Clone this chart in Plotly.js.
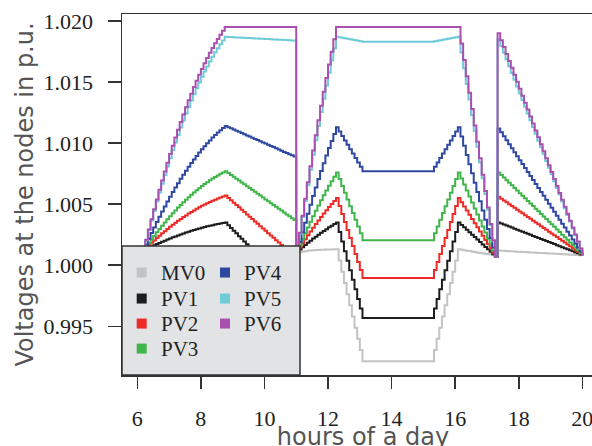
<!DOCTYPE html>
<html><head><meta charset="utf-8">
<script src="https://cdn.plot.ly/plotly-3.0.1.min.js"></script>
<style>html,body{margin:0;padding:0;overflow:hidden;background:#fff}</style>
</head><body><div id="chart"></div>
<script>
// time grid: first sample 6:10, one sample every 5 minutes, last sample 20:00
const startHour = 6 + 10 / 60;
const stepHours = 5 / 60;

const seriesNames = ['MV0', 'PV1', 'PV2', 'PV3', 'PV4', 'PV5', 'PV6'];
const seriesColors = ['#c3c3c3', '#1d1d1d', '#ed2a25', '#40b54a', '#2e47a0', '#6fcbd7', '#a950ae'];

const xTicks = [6, 8, 10, 12, 14, 16, 18, 20];
const yTicks = [0.995, 1.000, 1.005, 1.010, 1.015, 1.020];

const mv0 = [
  1.0012,1.0012,1.0012,1.0012,1.0012,1.0012,1.0012,1.0012,1.0012,1.0012,1.0012,1.0012,1.0012,1.0012,1.0012,1.0012,
  1.0013,1.0013,1.0013,1.0013,1.0013,1.0013,1.0013,1.0013,1.0013,1.0013,1.0013,1.0013,1.0013,1.0013,1.0013,1.0013,
  1.00105,1.00079,1.00054,1.00028,1.00003,0.99978,0.99952,0.99927,0.99901,0.99876,0.99851,0.99825,0.99800,0.99774,0.99749,0.99724,0.99698,0.99673,0.99647,0.99622,0.99597,0.99571,0.99546,0.99520,0.99495,0.99470,
  1.00100,1.00106,1.00111,1.00115,1.00118,1.00120,1.00122,1.00124,1.00125,1.00126,1.00127,1.00128,1.00129,1.00129,1.00130,1.00130,
  1.00038,0.99947,0.99855,0.99763,0.99672,0.99580,0.99488,0.99397,0.99305,0.99213,
  0.99213,0.99213,0.99213,0.99213,0.99213,0.99213,0.99213,0.99213,0.99213,0.99213,0.99213,0.99213,0.99213,0.99213,0.99213,0.99213,0.99213,0.99213,0.99213,0.99213,0.99213,0.99213,0.99213,0.99213,0.99213,0.99213,
  0.99305,0.99397,0.99488,0.99580,0.99672,0.99763,0.99855,0.99947,1.00038,1.00130,
  1.00126,1.00123,1.00119,1.00116,1.00112,1.00109,1.00105,1.00101,1.00098,1.00094,1.00091,1.00087,1.00084,1.00080,
  1.00120,1.00119,1.00118,1.00116,1.00115,1.00114,1.00113,1.00111,1.00110,1.00109,1.00108,1.00106,1.00105,1.00104,1.00103,1.00101,1.00100,1.00099,1.00098,1.00096,1.00095,1.00094,1.00093,1.00091,1.00090,1.00089,1.00088,1.00086,1.00085,1.00084,1.00083,1.00081,1.00080
];

const pv1 = [
  1.0012,1.00131,1.00142,1.00152,1.00163,1.00173,1.00182,1.00192,1.00201,1.00210,1.00219,1.00228,1.00236,1.00244,1.00252,1.00260,1.00267,1.00275,1.00282,1.00288,1.00295,1.00301,1.00307,1.00313,1.00318,1.00323,1.00328,1.00333,1.00338,1.00342,1.00346,1.00350,
  1.00328,1.00305,1.00283,1.00261,1.00238,1.00216,1.00194,1.00172,1.00149,1.00127,1.00105,1.00082,1.00060,1.00038,1.00015,0.99993,0.99971,0.99949,0.99926,0.99904,0.99882,0.99859,0.99837,0.99815,0.99792,0.99770,
  1.0011,1.00129,1.00148,1.00166,1.00183,1.00201,1.00218,1.00234,1.00250,1.00266,1.00281,1.00295,1.00310,1.00324,1.00337,1.00350,
  1.00272,1.00194,1.00115,1.00037,0.99959,0.99881,0.99803,0.99724,0.99646,0.99568,
  0.99568,0.99568,0.99568,0.99568,0.99568,0.99568,0.99568,0.99568,0.99568,0.99568,0.99568,0.99568,0.99568,0.99568,0.99568,0.99568,0.99568,0.99568,0.99568,0.99568,0.99568,0.99568,0.99568,0.99568,0.99568,0.99568,
  0.99646,0.99724,0.99803,0.99881,0.99959,1.00037,1.00115,1.00194,1.00272,1.00350,
  1.00330,1.00310,1.00290,1.00270,1.00250,1.00230,1.00210,1.00190,1.00170,1.00150,1.00130,1.00110,1.00090,1.00070,
  1.00350,1.00342,1.00333,1.00325,1.00316,1.00308,1.00299,1.00291,1.00283,1.00274,1.00266,1.00257,1.00249,1.00240,1.00232,1.00223,1.00215,1.00207,1.00198,1.00190,1.00181,1.00173,1.00164,1.00156,1.00148,1.00139,1.00131,1.00122,1.00114,1.00105,1.00097,1.00088,1.00080
];

const pv2 = [
  1.0012,1.00142,1.00163,1.00183,1.00203,1.00223,1.00242,1.00261,1.00279,1.00297,1.00314,1.00331,1.00348,1.00364,1.00379,1.00394,1.00408,1.00423,1.00436,1.00449,1.00462,1.00474,1.00486,1.00497,1.00508,1.00518,1.00528,1.00537,1.00546,1.00555,1.00562,1.00570,
  1.00551,1.00532,1.00512,1.00493,1.00474,1.00455,1.00435,1.00416,1.00397,1.00378,1.00358,1.00339,1.00320,1.00301,1.00282,1.00262,1.00243,1.00224,1.00205,1.00185,1.00166,1.00147,1.00128,1.00108,1.00089,1.00070,
  1.0011,1.00145,1.00179,1.00212,1.00245,1.00276,1.00307,1.00337,1.00367,1.00395,1.00423,1.00450,1.00476,1.00502,1.00526,1.00550,
  1.00485,1.00419,1.00354,1.00288,1.00223,1.00158,1.00092,1.00027,0.99961,0.99896,
  0.99896,0.99896,0.99896,0.99896,0.99896,0.99896,0.99896,0.99896,0.99896,0.99896,0.99896,0.99896,0.99896,0.99896,0.99896,0.99896,0.99896,0.99896,0.99896,0.99896,0.99896,0.99896,0.99896,0.99896,0.99896,0.99896,
  0.99961,1.00027,1.00092,1.00158,1.00223,1.00288,1.00354,1.00419,1.00485,1.00550,
  1.00516,1.00481,1.00447,1.00413,1.00379,1.00344,1.00310,1.00276,1.00241,1.00207,1.00173,1.00139,1.00104,1.00070,
  1.00560,1.00545,1.00530,1.00515,1.00500,1.00485,1.00470,1.00455,1.00440,1.00425,1.00410,1.00395,1.00380,1.00365,1.00350,1.00335,1.00320,1.00305,1.00290,1.00275,1.00260,1.00245,1.00230,1.00215,1.00200,1.00185,1.00170,1.00155,1.00140,1.00125,1.00110,1.00095,1.00080
];

const pv3 = [
  1.0012,1.00151,1.00182,1.00211,1.00240,1.00269,1.00297,1.00324,1.00350,1.00376,1.00401,1.00425,1.00449,1.00472,1.00494,1.00516,1.00537,1.00557,1.00577,1.00596,1.00614,1.00631,1.00648,1.00665,1.00680,1.00695,1.00709,1.00723,1.00735,1.00748,1.00759,1.00770,
  1.00755,1.00739,1.00724,1.00708,1.00693,1.00678,1.00662,1.00647,1.00632,1.00616,1.00601,1.00585,1.00570,1.00555,1.00539,1.00524,1.00508,1.00493,1.00478,1.00462,1.00447,1.00432,1.00416,1.00401,1.00385,1.00370,
  1.0011,1.00161,1.00212,1.00261,1.00309,1.00356,1.00401,1.00446,1.00489,1.00531,1.00572,1.00612,1.00651,1.00688,1.00725,1.00760,
  1.00705,1.00649,1.00594,1.00538,1.00483,1.00427,1.00372,1.00316,1.00261,1.00205,
  1.00205,1.00205,1.00205,1.00205,1.00205,1.00205,1.00205,1.00205,1.00205,1.00205,1.00205,1.00205,1.00205,1.00205,1.00205,1.00205,1.00205,1.00205,1.00205,1.00205,1.00205,1.00205,1.00205,1.00205,1.00205,1.00205,
  1.00261,1.00316,1.00372,1.00427,1.00483,1.00538,1.00594,1.00649,1.00705,1.00760,
  1.00711,1.00661,1.00612,1.00563,1.00514,1.00464,1.00415,1.00366,1.00316,1.00267,1.00218,1.00169,1.00119,1.00070,
  1.00760,1.00739,1.00718,1.00696,1.00675,1.00654,1.00633,1.00611,1.00590,1.00569,1.00548,1.00526,1.00505,1.00484,1.00463,1.00441,1.00420,1.00399,1.00378,1.00356,1.00335,1.00314,1.00293,1.00271,1.00250,1.00229,1.00208,1.00186,1.00165,1.00144,1.00123,1.00101,1.00080
];

const pv4 = [
  1.0012,1.00169,1.00217,1.00263,1.00309,1.00354,1.00397,1.00439,1.00481,1.00521,1.00561,1.00599,1.00636,1.00672,1.00707,1.00741,1.00774,1.00806,1.00836,1.00866,1.00895,1.00922,1.00949,1.00974,1.00999,1.01022,1.01045,1.01066,1.01086,1.01105,1.01123,1.01140,
  1.01130,1.01121,1.01111,1.01102,1.01092,1.01082,1.01073,1.01063,1.01053,1.01044,1.01034,1.01025,1.01015,1.01005,1.00996,1.00986,1.00976,1.00967,1.00957,1.00948,1.00938,1.00928,1.00919,1.00909,1.00900,1.00890,
  1.0011,1.00191,1.00270,1.00347,1.00422,1.00495,1.00567,1.00637,1.00705,1.00771,1.00835,1.00898,1.00959,1.01018,1.01075,1.01130,
  1.01094,1.01058,1.01022,1.00986,1.00950,1.00914,1.00878,1.00842,1.00806,1.00770,
  1.00770,1.00770,1.00770,1.00770,1.00770,1.00770,1.00770,1.00770,1.00770,1.00770,1.00770,1.00770,1.00770,1.00770,1.00770,1.00770,1.00770,1.00770,1.00770,1.00770,1.00770,1.00770,1.00770,1.00770,1.00770,1.00770,
  1.00806,1.00842,1.00878,1.00914,1.00950,1.00986,1.01022,1.01058,1.01094,1.01130,
  1.01054,1.00979,1.00903,1.00827,1.00752,1.00676,1.00600,1.00524,1.00449,1.00373,1.00297,1.00222,1.00146,1.00070,
  1.01120,1.01088,1.01055,1.01023,1.00990,1.00958,1.00925,1.00893,1.00860,1.00828,1.00795,1.00763,1.00730,1.00698,1.00665,1.00633,1.00600,1.00568,1.00535,1.00503,1.00470,1.00438,1.00405,1.00373,1.00340,1.00308,1.00275,1.00243,1.00210,1.00178,1.00145,1.00113,1.00080
];

const pv5 = [
  1.0012,1.00204,1.00286,1.00366,1.00444,1.00521,1.00595,1.00668,1.00739,1.00808,1.00876,1.00941,1.01005,1.01067,1.01127,1.01185,1.01242,1.01296,1.01349,1.01400,1.01449,1.01497,1.01542,1.01586,1.01628,1.01668,1.01706,1.01743,1.01777,1.01810,1.01841,1.01870,
  1.01869,1.01868,1.01867,1.01865,1.01864,1.01863,1.01862,1.01861,1.01860,1.01858,1.01857,1.01856,1.01855,1.01854,1.01853,1.01852,1.01850,1.01849,1.01848,1.01847,1.01846,1.01845,1.01844,1.01842,1.01841,1.01840,
  1.0012,1.00258,1.00394,1.00526,1.00655,1.00781,1.00904,1.01024,1.01140,1.01254,1.01364,1.01472,1.01576,1.01677,1.01775,1.01870,
  1.01866,1.01862,1.01858,1.01854,1.01850,1.01846,1.01842,1.01838,1.01834,1.01830,
  1.01830,1.01830,1.01830,1.01830,1.01830,1.01830,1.01830,1.01830,1.01830,1.01830,1.01830,1.01830,1.01830,1.01830,1.01830,1.01830,1.01830,1.01830,1.01830,1.01830,1.01830,1.01830,1.01830,1.01830,1.01830,1.01830,
  1.01834,1.01838,1.01842,1.01846,1.01850,1.01854,1.01858,1.01862,1.01866,1.01870,
  1.01741,1.01613,1.01484,1.01356,1.01227,1.01098,1.00970,1.00841,1.00713,1.00584,1.00455,1.00327,1.00198,1.00070,
  1.01850,1.01795,1.01739,1.01684,1.01629,1.01573,1.01518,1.01463,1.01407,1.01352,1.01297,1.01242,1.01186,1.01131,1.01076,1.01020,1.00965,1.00910,1.00854,1.00799,1.00744,1.00688,1.00633,1.00578,1.00522,1.00467,1.00412,1.00357,1.00301,1.00246,1.00191,1.00135,1.00080
];

const pv6 = [
  1.0012,1.00208,1.00293,1.00377,1.00459,1.00539,1.00617,1.00693,1.00767,1.00840,1.00910,1.00979,1.01045,1.01110,1.01173,1.01234,1.01293,1.01350,1.01405,1.01459,1.01510,1.01560,1.01607,1.01653,1.01697,1.01739,1.01779,1.01817,1.01853,1.01887,1.01919,1.01950,
  1.0195,1.0195,1.0195,1.0195,1.0195,1.0195,1.0195,1.0195,1.0195,1.0195,1.0195,1.0195,1.0195,1.0195,1.0195,1.0195,1.0195,1.0195,1.0195,1.0195,1.0195,1.0195,1.0195,1.0195,1.0195,1.0195,
  1.0012,1.00265,1.00406,1.00545,1.00680,1.00811,1.00940,1.01065,1.01187,1.01306,1.01421,1.01533,1.01643,1.01748,1.01851,1.01950,
  1.0195,1.0195,1.0195,1.0195,1.0195,1.0195,1.0195,1.0195,1.0195,1.0195,
  1.0195,1.0195,1.0195,1.0195,1.0195,1.0195,1.0195,1.0195,1.0195,1.0195,1.0195,1.0195,1.0195,1.0195,1.0195,1.0195,1.0195,1.0195,1.0195,1.0195,1.0195,1.0195,1.0195,1.0195,1.0195,1.0195,
  1.0195,1.0195,1.0195,1.0195,1.0195,1.0195,1.0195,1.0195,1.0195,1.0195,
  1.01816,1.01681,1.01547,1.01413,1.01279,1.01144,1.01010,1.00876,1.00741,1.00607,1.00473,1.00338,1.00204,1.00070,
  1.01900,1.01843,1.01786,1.01729,1.01673,1.01616,1.01559,1.01502,1.01445,1.01388,1.01331,1.01274,1.01218,1.01161,1.01104,1.01047,1.00990,1.00933,1.00876,1.00819,1.00763,1.00706,1.00649,1.00592,1.00535,1.00478,1.00421,1.00364,1.00308,1.00251,1.00194,1.00137,1.00080
];

const seriesValues = [mv0, pv1, pv2, pv3, pv4, pv5, pv6];
seriesValues.forEach((s, i) => { if (s.length !== 167) throw new Error(seriesNames[i] + ' has ' + s.length + ' values'); });

const SERIF = '"Liberation Serif", "Times New Roman", Times, serif';
const SANS = '"DejaVu Sans", Verdana, sans-serif';

// ---- layout geometry (pixels); page is cropped to 592x446 by the window ----
const W = 604, H = 451;
const L = 122, T = 14, PW = 482, PH = 360.7;
const px2x = p => (p - L) / PW;
const px2y = p => (T + PH - p) / PH;

const traces = seriesValues.map((vals, i) => ({
  type: 'scatter', mode: 'lines', name: seriesNames[i],
  x0: startHour, dx: stepHours, y: vals,
  line: {color: seriesColors[i], width: 2, shape: 'hv'},
  hoverinfo: 'skip'
}));

// legend drawn as a box with swatches and text
const shapes = [{
  type: 'rect', xref: 'paper', yref: 'paper', layer: 'above',
  x0: px2x(122), x1: px2x(300), y0: px2y(374.7), y1: px2y(245.7),
  fillcolor: '#e2e3e5', line: {color: '#333', width: 1.5}
}];
const annotations = [];
const legCols = [[141.7, 159], [225, 242]];
const legRows = [272.3, 298.3, 323.3, 348.3];
seriesNames.forEach((nm, i) => {
  const col = i < 4 ? 0 : 1, row = i < 4 ? i : i - 4;
  const cx = legCols[col][0], cy = legRows[row];
  shapes.push({type: 'rect', xref: 'paper', yref: 'paper', layer: 'above',
    x0: px2x(cx - 5), x1: px2x(cx + 5), y0: px2y(cy + 5), y1: px2y(cy - 5),
    fillcolor: seriesColors[i], line: {width: 0}});
  annotations.push({xref: 'paper', yref: 'paper', x: px2x(legCols[col][1]), y: px2y(cy),
    xanchor: 'left', yanchor: 'middle', showarrow: false, text: nm,
    font: {family: SERIF, size: 21, color: '#222'}});
});

const layout = {
  width: W, height: H,
  margin: {l: L, r: W - L - PW, t: T, b: H - T - PH, pad: 0},
  paper_bgcolor: '#fff', plot_bgcolor: '#fff', showlegend: false,
  font: {family: SERIF},
  xaxis: {
    range: [5.519, 5.519 + PW / 31.79], tickvals: xTicks, ticktext: xTicks.map(String),
    ticks: 'outside', ticklen: 12, tickwidth: 1.5, tickcolor: '#333',
    showline: true, linecolor: '#333', linewidth: 1.5, mirror: true,
    showgrid: false, zeroline: false, ticklabelstandoff: 11,
    tickfont: {family: SERIF, size: 22, color: '#222'},
    title: {text: 'hours of a day', standoff: 4, font: {family: SANS, size: 24, color: '#555'}}
  },
  yaxis: {
    range: [0.99101, 1.02057], tickvals: yTicks, ticktext: yTicks.map(v => v.toFixed(3)),
    ticks: 'outside', ticklen: 13, tickwidth: 1.5, tickcolor: '#333',
    showline: true, linecolor: '#333', linewidth: 1.5, mirror: true,
    showgrid: false, zeroline: false, ticklabelstandoff: 10,
    tickfont: {family: SERIF, size: 22, color: '#222'},
    title: {text: 'Voltages at the nodes in p.u.', standoff: 3, font: {family: SANS, size: 24, color: '#555'}}
  },
  shapes: shapes, annotations: annotations
};

Plotly.newPlot('chart', traces, layout, {staticPlot: true, displayModeBar: false});
</script></body></html>
